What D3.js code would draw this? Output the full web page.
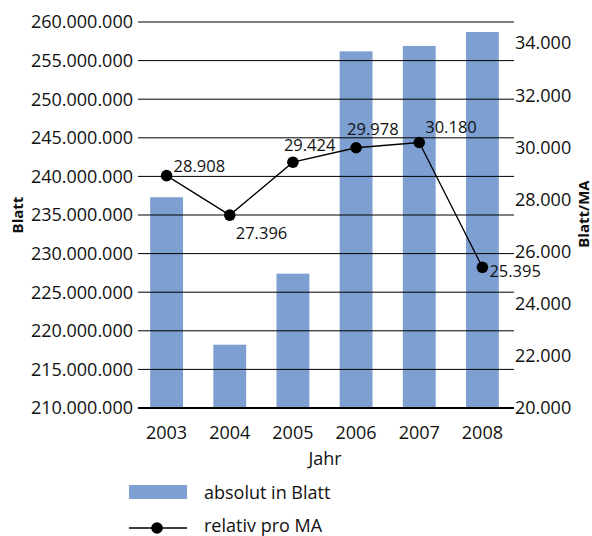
<!DOCTYPE html>
<html><head><meta charset="utf-8">
<script src="https://cdn.jsdelivr.net/npm/d3@7"></script>
<style>
html,body{margin:0;padding:0;background:#fff;}
svg{display:block;font-family:"Open Sans",sans-serif;}
</style></head>
<body><svg id="c" width="592" height="536"></svg>
<script>
const years = ["2003","2004","2005","2006","2007","2008"];
const absolut = [237300000, 218200000, 227400000, 256200000, 256900000, 258700000];
const relativ = [28908, 27396, 29424, 29978, 30180, 25395];
const leftTicks = [210000000,215000000,220000000,225000000,230000000,235000000,240000000,245000000,250000000,255000000,260000000];
const rightTicks = [20000,22000,24000,26000,28000,30000,32000,34000];
const labelOffsets = [[7,-4],[6,24],[-9,-11],[-9,-13],[6,-9],[7,10]];

const svg = d3.select("#c");
const fmt = d3.formatLocale({decimal:",",thousands:".",grouping:[3],currency:["","€"]}).format(",.0f");

const x = d3.scaleBand().domain(years).range([135,514]).paddingInner(0.48).paddingOuter(0.24);
const yL = d3.scaleLinear().domain([210000000,260000000]).range([408,22]);
const yR = d3.scaleLinear().domain([20000,34800]).range([408,22]);
const barColor = "#7e9fd2";

// bars
svg.append("g").selectAll("rect").data(years).join("rect")
  .attr("x", d=>x(d)).attr("width", x.bandwidth())
  .attr("y", (d,i)=>yL(absolut[i])).attr("height",(d,i)=>408-yL(absolut[i]))
  .attr("fill", barColor);

// gridlines over bars
svg.append("g").selectAll("line").data(leftTicks.slice(1)).join("line")
  .attr("x1",138).attr("x2",514).attr("y1",d=>yL(d)).attr("y2",d=>yL(d))
  .attr("stroke","#000").attr("stroke-width",1);
svg.append("line").attr("x1",138).attr("x2",514).attr("y1",yL(210000000)).attr("y2",yL(210000000))
  .attr("stroke","#000").attr("stroke-width",2.2);

// left axis labels
svg.append("g").selectAll("text").data(leftTicks).join("text")
  .attr("x",133).attr("y",d=>yL(d)).attr("dy","0.36em").attr("text-anchor","end")
  .attr("font-size",18).attr("fill","#111").text(d=>fmt(d));

// right axis labels
svg.append("g").selectAll("text").data(rightTicks).join("text")
  .attr("x",515).attr("y",d=>yR(d)).attr("dy","0.36em").attr("text-anchor","start")
  .attr("font-size",18).attr("fill","#111").text(d=>fmt(d));

// x labels
svg.append("g").selectAll("text").data(years).join("text")
  .attr("x",d=>x(d)+x.bandwidth()/2).attr("y",439).attr("text-anchor","middle")
  .attr("font-size",18).attr("fill","#111").text(d=>d);

svg.append("text").attr("x",325).attr("y",465).attr("text-anchor","middle")
  .attr("font-size",18).attr("fill","#111").text("Jahr");

svg.append("text").attr("transform","translate(23,215) rotate(-90)").attr("text-anchor","middle")
  .attr("font-size",15).attr("font-weight","bold").attr("fill","#111").text("Blatt");
svg.append("text").attr("transform","translate(589,214) rotate(-90)").attr("text-anchor","middle")
  .attr("font-size",15).attr("font-weight","bold").attr("fill","#111").text("Blatt/MA");

// line
const cx = (d,i)=>x(years[i])+x.bandwidth()/2;
const line = d3.line().x((d,i)=>cx(d,i)).y(d=>yR(d));
svg.append("path").datum(relativ).attr("d",line).attr("fill","none").attr("stroke","#000").attr("stroke-width",1.3);
svg.append("g").selectAll("circle").data(relativ).join("circle")
  .attr("cx",cx).attr("cy",d=>yR(d)).attr("r",5.8).attr("fill","#000");
svg.append("g").selectAll("text").data(relativ).join("text")
  .attr("x",(d,i)=>cx(d,i)+labelOffsets[i][0]).attr("y",(d,i)=>yR(d)+labelOffsets[i][1])
  .attr("font-size",16.5).attr("fill","#111").text(d=>fmt(d));

// legend
const lg = svg.append("g");
lg.append("rect").attr("x",129).attr("y",485).attr("width",58).attr("height",14).attr("fill",barColor);
lg.append("text").attr("x",204).attr("y",499).attr("font-size",18).attr("fill","#111").text("absolut in Blatt");
lg.append("line").attr("x1",129).attr("x2",187).attr("y1",528).attr("y2",528).attr("stroke","#000").attr("stroke-width",1.3);
lg.append("circle").attr("cx",157).attr("cy",528).attr("r",5.8).attr("fill","#000");
lg.append("text").attr("x",204).attr("y",532).attr("font-size",18).attr("fill","#111").text("relativ pro MA");
</script></body></html>
